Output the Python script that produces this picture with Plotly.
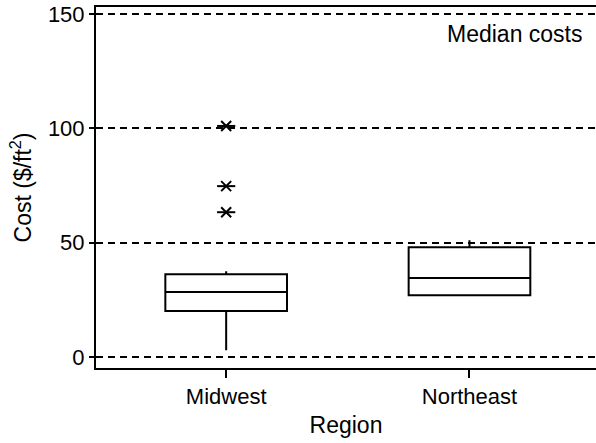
import plotly.graph_objects as go

# Regional cost summaries ($/ft^2)
regions = ["Midwest", "Northeast"]
q1 = [20.1, 27.0]
median = [28.4, 34.5]
q3 = [36.2, 48.0]
lower_fence = [3.0, 27.0]
upper_fence = [37.5, 51.0]

# Midwest outliers
outlier_region = ["Midwest", "Midwest", "Midwest"]
outlier_cost = [101.0, 74.7, 63.3]

y_ticks = [0, 50, 100, 150]

FONT = "Liberation Sans, Arial, sans-serif"

fig = go.Figure()
fig.add_trace(go.Box(
    x=regions,
    q1=q1, median=median, q3=q3,
    lowerfence=lower_fence, upperfence=upper_fence,
    width=0.5,
    whiskerwidth=0,
    fillcolor="rgba(0,0,0,0)",
    line=dict(color="black", width=2),
    boxpoints=False,
    showlegend=False,
))
# Six-armed star for outliers: a diagonal cross plus a horizontal bar
for sym, sz in (("x-thin-open", 10), ("line-ew-open", 13)):
    fig.add_trace(go.Scatter(
        x=outlier_region, y=outlier_cost,
        mode="markers",
        marker=dict(symbol=sym, size=sz, color="black",
                    line=dict(color="black", width=2)),
        showlegend=False,
    ))

fig.add_annotation(
    text="Median costs", xref="paper", yref="paper",
    x=0.978, y=0.925, xanchor="right", yanchor="middle",
    showarrow=False, font=dict(family=FONT, size=23, color="black"),
)

fig.update_layout(
    width=596, height=443,
    margin=dict(l=96, r=0, t=7, b=75),
    paper_bgcolor="white", plot_bgcolor="white",
    font=dict(family=FONT, size=22, color="black"),
    xaxis=dict(
        type="category", range=[-0.535, 1.52],
        showline=True, linecolor="black", linewidth=2, mirror=True,
        ticks="outside", ticklen=8, tickwidth=1.5, tickcolor="black",
        showgrid=False, zeroline=False,
        tickfont=dict(size=22),
        title=dict(text="Region", font=dict(size=23), standoff=8),
    ),
    yaxis=dict(
        range=[-4.8, 153], tickvals=y_ticks,
        showline=True, linecolor="black", linewidth=2,
        ticks="outside", ticklen=5, tickwidth=1.5, tickcolor="black",
        showgrid=True, gridcolor="black", gridwidth=1.5, griddash="7px,5px",
        zeroline=False,
        tickfont=dict(size=22),
        title=dict(text="Cost ($/ft<sup>2</sup>)", font=dict(size=23), standoff=10),
    ),
)

fig.write_html("out.html")
